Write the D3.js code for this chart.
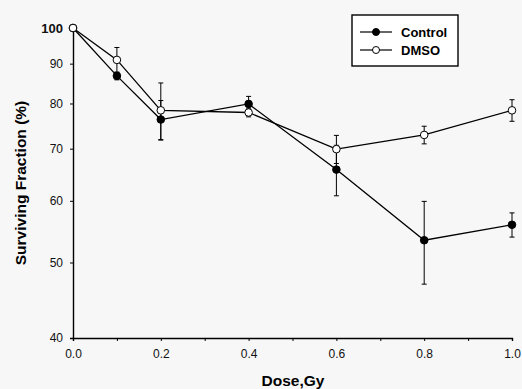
<!DOCTYPE html>
<html>
<head>
<meta charset="utf-8">
<script src="https://cdn.jsdelivr.net/npm/d3@7"></script>
<style>
  body { margin: 0; background: #f7f7f7; }
  svg { display: block; font-family: "Liberation Sans", Arial, sans-serif; }
</style>
</head>
<body>
<svg id="chart" width="522" height="389"></svg>
<script>
// Data
const doses = [0.0, 0.1, 0.2, 0.4, 0.6, 0.8, 1.0];
const controlValues = [100, 86.8, 76.3, 79.9, 65.8, 53.4, 55.9];
const controlErrors = [0, 1.0, 4.4, 1.8, 4.9, 6.5, 2.0];
const dmsoValues = [100, 91.0, 78.4, 77.9, 69.9, 72.9, 78.4];
const dmsoErrors = [0, 3.4, 6.6, 1.0, 2.9, 1.9, 2.5];
const xTicks = [0, 0.2, 0.4, 0.6, 0.8, 1.0];
const xMinorTicks = [0.1, 0.3, 0.5, 0.7, 0.9];
const yTicks = [40, 50, 60, 70, 80, 90, 100];

const svg = d3.select('#chart');
const margin = { left: 73, right: 10, top: 28, bottom: 51 };
const height = 389 - margin.top - margin.bottom;

const x = d3.scaleLinear().domain([0, 1]).range([margin.left, margin.left + 439]);
const y = d3.scaleLog().domain([40, 100]).range([margin.top + height, margin.top]);

// Axes
svg.append('g')
    .attr('transform', `translate(0, ${y(40)})`)
    .call(d3.axisBottom(x).tickValues(xTicks).tickFormat(d3.format('.1f')).tickSize(3).tickPadding(8));
svg.append('g')
    .attr('transform', `translate(0, ${y(40)})`)
    .call(d3.axisBottom(x).tickValues(xMinorTicks).tickFormat('').tickSize(3))
    .select('.domain').remove();

const yAxis = svg.append('g')
    .attr('transform', `translate(${x(0)}, 0)`)
    .call(d3.axisLeft(y).tickValues(yTicks).tickFormat(d3.format('d')).tickSize(3).tickPadding(7));

svg.selectAll('.domain').attr('stroke', '#000').attr('stroke-width', 1.4);
svg.selectAll('.tick line').attr('stroke', '#000');
svg.selectAll('.tick text').attr('font-size', 12).attr('fill', '#111');
yAxis.selectAll('.tick text').filter(d => d === 100)
    .attr('font-weight', 'bold').attr('font-size', 13);

// Axis titles
svg.append('text')
    .attr('x', 293)
    .attr('y', 386)
    .attr('text-anchor', 'middle')
    .attr('font-weight', 'bold')
    .attr('font-size', 15.5)
    .text('Dose,Gy');

svg.append('text')
    .attr('transform', 'translate(26, 183) rotate(-90)')
    .attr('text-anchor', 'middle')
    .attr('font-weight', 'bold')
    .attr('font-size', 15.5)
    .text('Surviving Fraction (%)');

const series = [
    { name: 'Control', values: controlValues, errors: controlErrors, fill: '#000' },
    { name: 'DMSO', values: dmsoValues, errors: dmsoErrors, fill: '#fff' }
];

const line = d3.line().x(d => x(d.dose)).y(d => y(d.value));

series.forEach(s => {
    const pts = doses.map((dose, i) => ({ dose, value: s.values[i], err: s.errors[i] }));
    const g = svg.append('g');

    // Error bars
    const eb = g.selectAll('.err').data(pts.filter(d => d.err > 0)).enter().append('g');
    eb.append('line')
        .attr('x1', d => x(d.dose)).attr('x2', d => x(d.dose))
        .attr('y1', d => y(d.value - d.err)).attr('y2', d => y(d.value + d.err))
        .attr('stroke', '#000').attr('stroke-width', 1);
    [-1, 1].forEach(sign => {
        eb.append('line')
            .attr('x1', d => x(d.dose) - 2.5).attr('x2', d => x(d.dose) + 2.5)
            .attr('y1', d => y(d.value + sign * d.err)).attr('y2', d => y(d.value + sign * d.err))
            .attr('stroke', '#000').attr('stroke-width', 1);
    });

    g.append('path')
        .datum(pts)
        .attr('d', line)
        .attr('fill', 'none')
        .attr('stroke', '#000')
        .attr('stroke-width', 1.3);

    s.g = g;
    s.pts = pts;
});

series.forEach(s => {
    s.g.selectAll('circle').data(s.pts).enter().append('circle')
        .attr('cx', d => x(d.dose))
        .attr('cy', d => y(d.value))
        .attr('r', 3.8)
        .attr('fill', s.fill)
        .attr('stroke', '#000')
        .attr('stroke-width', 1);
});

// Legend
const legend = svg.append('g').attr('transform', 'translate(352, 15)');
legend.append('rect')
    .attr('width', 106).attr('height', 51)
    .attr('fill', '#fff').attr('stroke', '#000').attr('stroke-width', 1.4);
series.forEach((s, i) => {
    const ly = 17 + i * 18;
    legend.append('line')
        .attr('x1', 8).attr('x2', 40).attr('y1', ly).attr('y2', ly)
        .attr('stroke', '#000').attr('stroke-width', 1.2);
    legend.append('circle')
        .attr('cx', 24).attr('cy', ly).attr('r', 3.5)
        .attr('fill', s.fill).attr('stroke', '#000');
    legend.append('text')
        .attr('x', 49).attr('y', ly + 4.5)
        .attr('font-weight', 'bold')
        .attr('font-size', 13)
        .text(s.name);
});
</script>
</body>
</html>
